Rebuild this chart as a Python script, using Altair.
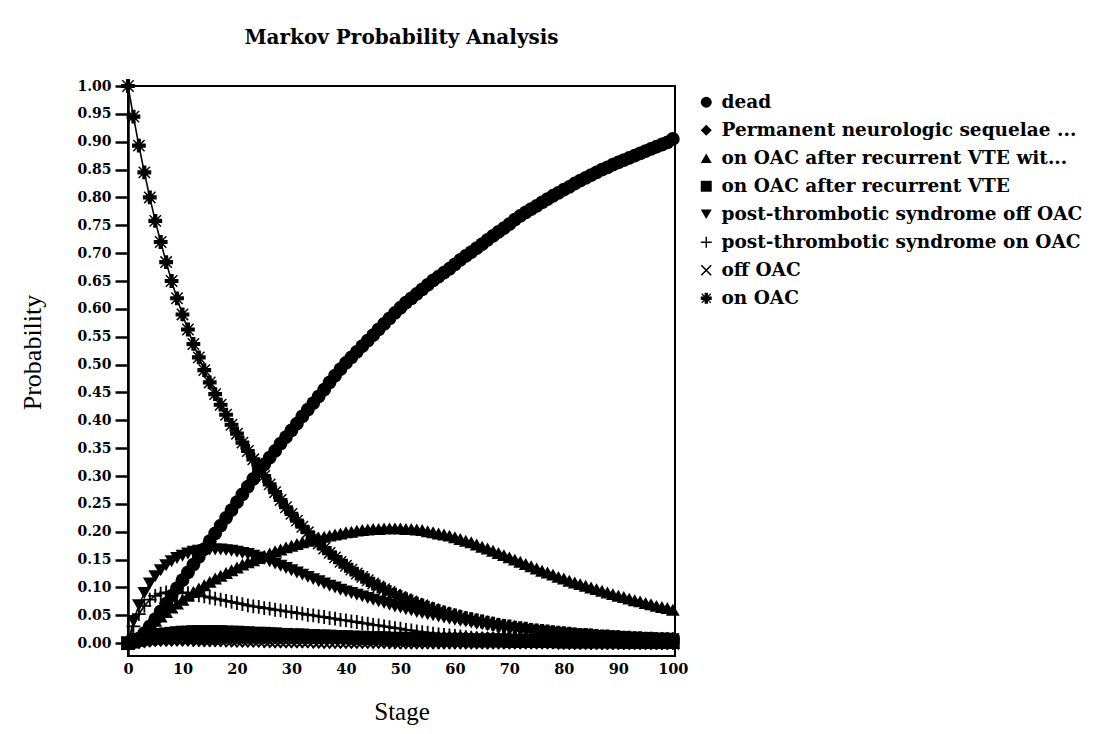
import altair as alt
import pandas as pd

SERIF = "Liberation Serif"
HEAVY = "DejaVu Serif"

stages = list(range(0, 101))

series_names = [
    "dead",
    "Permanent neurologic sequelae ...",
    "on OAC after recurrent VTE wit...",
    "on OAC after recurrent VTE",
    "post-thrombotic syndrome off OAC",
    "post-thrombotic syndrome on  OAC",
    "off OAC",
    "on OAC",
]

dead = [0.000, 0.002, 0.008, 0.018, 0.030, 0.043, 0.057, 0.071, 0.085, 0.099,
        0.113, 0.127, 0.141, 0.155, 0.169, 0.183, 0.197, 0.211, 0.225, 0.239,
        0.253, 0.267, 0.281, 0.295, 0.309, 0.321, 0.333, 0.345, 0.358, 0.370,
        0.382, 0.394, 0.407, 0.419, 0.431, 0.443, 0.455, 0.468, 0.480, 0.492,
        0.503, 0.513, 0.523, 0.533, 0.543, 0.553, 0.563, 0.573, 0.583, 0.593,
        0.602, 0.611, 0.619, 0.627, 0.635, 0.643, 0.651, 0.658, 0.665, 0.672,
        0.680, 0.688, 0.695, 0.702, 0.709, 0.716, 0.724, 0.731, 0.738, 0.745,
        0.752, 0.760, 0.767, 0.773, 0.779, 0.785, 0.791, 0.797, 0.803, 0.808,
        0.814, 0.819, 0.825, 0.830, 0.835, 0.840, 0.845, 0.850, 0.854, 0.859,
        0.863, 0.867, 0.871, 0.875, 0.879, 0.883, 0.887, 0.891, 0.895, 0.899,
        0.905]

neuro_sequelae = [0.000, 0.001, 0.002, 0.003, 0.004, 0.005, 0.006, 0.006, 0.007, 0.007,
                  0.008, 0.008, 0.008, 0.009, 0.009, 0.009, 0.009, 0.010, 0.010, 0.010,
                  0.010, 0.010, 0.010, 0.010, 0.010, 0.010, 0.010, 0.010, 0.010, 0.010,
                  0.010, 0.010, 0.010, 0.010, 0.010, 0.010, 0.010, 0.010, 0.010, 0.010,
                  0.010, 0.010, 0.010, 0.010, 0.010, 0.010, 0.010, 0.010, 0.010, 0.010,
                  0.010, 0.010, 0.010, 0.010, 0.010, 0.010, 0.010, 0.010, 0.010, 0.010,
                  0.010, 0.010, 0.010, 0.009, 0.009, 0.009, 0.009, 0.009, 0.009, 0.009,
                  0.009, 0.009, 0.009, 0.009, 0.009, 0.009, 0.009, 0.009, 0.009, 0.009,
                  0.008, 0.008, 0.008, 0.008, 0.008, 0.008, 0.008, 0.008, 0.008, 0.008,
                  0.008, 0.008, 0.008, 0.008, 0.008, 0.008, 0.008, 0.008, 0.008, 0.008,
                  0.008]

oac_recurrent_with = [0.000, 0.005, 0.013, 0.022, 0.031, 0.040, 0.048, 0.056, 0.064, 0.071,
                      0.078, 0.085, 0.092, 0.098, 0.104, 0.110, 0.116, 0.121, 0.126, 0.131,
                      0.136, 0.141, 0.145, 0.149, 0.153, 0.157, 0.161, 0.165, 0.168, 0.172,
                      0.175, 0.178, 0.181, 0.184, 0.186, 0.189, 0.191, 0.193, 0.195, 0.197,
                      0.199, 0.200, 0.202, 0.203, 0.204, 0.205, 0.205, 0.206, 0.206, 0.206,
                      0.206, 0.205, 0.205, 0.204, 0.203, 0.201, 0.199, 0.197, 0.195, 0.193,
                      0.190, 0.187, 0.184, 0.181, 0.177, 0.173, 0.170, 0.166, 0.162, 0.158,
                      0.154, 0.150, 0.146, 0.142, 0.138, 0.134, 0.130, 0.127, 0.123, 0.119,
                      0.116, 0.112, 0.109, 0.106, 0.103, 0.100, 0.097, 0.094, 0.091, 0.088,
                      0.085, 0.083, 0.080, 0.077, 0.075, 0.072, 0.070, 0.067, 0.065, 0.063,
                      0.060]

oac_recurrent = [0.000, 0.003, 0.006, 0.009, 0.011, 0.013, 0.015, 0.016, 0.017, 0.018,
                 0.019, 0.019, 0.020, 0.020, 0.020, 0.020, 0.020, 0.020, 0.019, 0.019,
                 0.019, 0.018, 0.018, 0.017, 0.017, 0.017, 0.016, 0.016, 0.015, 0.015,
                 0.014, 0.014, 0.014, 0.013, 0.013, 0.012, 0.012, 0.012, 0.011, 0.011,
                 0.011, 0.010, 0.010, 0.010, 0.009, 0.009, 0.009, 0.009, 0.008, 0.008,
                 0.008, 0.008, 0.007, 0.007, 0.007, 0.007, 0.007, 0.006, 0.006, 0.006,
                 0.006, 0.006, 0.006, 0.005, 0.005, 0.005, 0.005, 0.005, 0.005, 0.005,
                 0.004, 0.004, 0.004, 0.004, 0.004, 0.004, 0.004, 0.004, 0.004, 0.003,
                 0.003, 0.003, 0.003, 0.003, 0.003, 0.003, 0.003, 0.003, 0.003, 0.003,
                 0.003, 0.002, 0.002, 0.002, 0.002, 0.002, 0.002, 0.002, 0.002, 0.002,
                 0.002]

pts_off_oac = [0.000, 0.040, 0.068, 0.090, 0.107, 0.120, 0.131, 0.140, 0.147, 0.153,
               0.157, 0.161, 0.164, 0.166, 0.167, 0.168, 0.168, 0.168, 0.167, 0.166,
               0.164, 0.162, 0.160, 0.157, 0.154, 0.151, 0.147, 0.143, 0.139, 0.135,
               0.131, 0.127, 0.123, 0.119, 0.115, 0.111, 0.107, 0.103, 0.100, 0.096,
               0.093, 0.090, 0.087, 0.084, 0.081, 0.078, 0.075, 0.072, 0.069, 0.066,
               0.064, 0.061, 0.059, 0.056, 0.054, 0.052, 0.050, 0.048, 0.046, 0.044,
               0.042, 0.040, 0.039, 0.037, 0.035, 0.034, 0.032, 0.031, 0.030, 0.028,
               0.027, 0.026, 0.025, 0.024, 0.023, 0.022, 0.021, 0.020, 0.019, 0.018,
               0.017, 0.017, 0.016, 0.015, 0.015, 0.014, 0.013, 0.013, 0.012, 0.012,
               0.011, 0.011, 0.010, 0.010, 0.009, 0.009, 0.009, 0.008, 0.008, 0.008,
               0.007]

pts_on_oac = [0.000, 0.030, 0.052, 0.067, 0.078, 0.085, 0.089, 0.091, 0.092, 0.092,
              0.091, 0.090, 0.088, 0.086, 0.084, 0.082, 0.080, 0.078, 0.076, 0.074,
              0.072, 0.070, 0.068, 0.066, 0.065, 0.063, 0.062, 0.060, 0.059, 0.057,
              0.056, 0.054, 0.053, 0.051, 0.050, 0.048, 0.047, 0.045, 0.044, 0.042,
              0.041, 0.039, 0.038, 0.036, 0.035, 0.033, 0.032, 0.030, 0.029, 0.027,
              0.026, 0.024, 0.023, 0.021, 0.020, 0.019, 0.017, 0.016, 0.015, 0.014,
              0.013, 0.012, 0.011, 0.010, 0.009, 0.008, 0.007, 0.007, 0.006, 0.006,
              0.005, 0.005, 0.004, 0.004, 0.004, 0.003, 0.003, 0.003, 0.003, 0.002,
              0.002, 0.002, 0.002, 0.002, 0.002, 0.001, 0.001, 0.001, 0.001, 0.001,
              0.001, 0.001, 0.001, 0.001, 0.001, 0.001, 0.001, 0.000, 0.000, 0.000,
              0.000]

off_oac = [0.000, 0.002, 0.004, 0.005, 0.006, 0.006, 0.006, 0.006, 0.006, 0.006,
           0.006, 0.006, 0.006, 0.005, 0.005, 0.005, 0.005, 0.005, 0.005, 0.004,
           0.004, 0.004, 0.004, 0.004, 0.004, 0.004, 0.003, 0.003, 0.003, 0.003,
           0.003, 0.003, 0.003, 0.003, 0.003, 0.002, 0.002, 0.002, 0.002, 0.002,
           0.002, 0.002, 0.002, 0.002, 0.002, 0.002, 0.002, 0.002, 0.002, 0.001,
           0.001, 0.001, 0.001, 0.001, 0.001, 0.001, 0.001, 0.001, 0.001, 0.001,
           0.001, 0.001, 0.001, 0.001, 0.001, 0.001, 0.001, 0.001, 0.001, 0.001,
           0.001, 0.001, 0.001, 0.001, 0.001, 0.001, 0.001, 0.001, 0.001, 0.001,
           0.000, 0.000, 0.000, 0.000, 0.000, 0.000, 0.000, 0.000, 0.000, 0.000,
           0.000, 0.000, 0.000, 0.000, 0.000, 0.000, 0.000, 0.000, 0.000, 0.000,
           0.000]

on_oac = [1.000, 0.945, 0.893, 0.845, 0.800, 0.758, 0.720, 0.684, 0.650, 0.619,
          0.590, 0.563, 0.537, 0.513, 0.490, 0.468, 0.447, 0.428, 0.410, 0.392,
          0.376, 0.360, 0.345, 0.330, 0.316, 0.300, 0.285, 0.271, 0.257, 0.244,
          0.232, 0.220, 0.209, 0.199, 0.189, 0.179, 0.170, 0.162, 0.154, 0.146,
          0.139, 0.132, 0.125, 0.119, 0.113, 0.107, 0.102, 0.097, 0.092, 0.087,
          0.083, 0.079, 0.075, 0.071, 0.068, 0.064, 0.061, 0.058, 0.055, 0.052,
          0.050, 0.047, 0.045, 0.043, 0.041, 0.039, 0.037, 0.035, 0.033, 0.031,
          0.030, 0.028, 0.027, 0.026, 0.024, 0.023, 0.022, 0.021, 0.020, 0.019,
          0.018, 0.017, 0.016, 0.015, 0.015, 0.014, 0.013, 0.012, 0.012, 0.011,
          0.011, 0.010, 0.010, 0.009, 0.009, 0.008, 0.008, 0.007, 0.007, 0.007,
          0.006]

y_ticks = [0.00, 0.05, 0.10, 0.15, 0.20, 0.25, 0.30, 0.35, 0.40, 0.45, 0.50,
           0.55, 0.60, 0.65, 0.70, 0.75, 0.80, 0.85, 0.90, 0.95, 1.00]
x_ticks = [0, 10, 20, 30, 40, 50, 60, 70, 80, 90, 100]

all_series = [dead, neuro_sequelae, oac_recurrent_with, oac_recurrent,
              pts_off_oac, pts_on_oac, off_oac, on_oac]

rows = []
for name, vals in zip(series_names, all_series):
    for s, v in zip(stages, vals):
        rows.append({"Stage": s, "Probability": v, "State": name})
df = pd.DataFrame(rows)

# marker glyphs drawn as filled outlines (unit box -1..1)
plus_path = ("M-1,-0.13L-0.13,-0.13L-0.13,-1L0.13,-1L0.13,-0.13L1,-0.13L1,0.13"
             "L0.13,0.13L0.13,1L-0.13,1L-0.13,0.13L-1,0.13Z")
x_path = "M-0.8,-1L1,0.8L0.8,1L-1,-0.8ZM-0.8,1L-1,0.8L0.8,-1L1,-0.8Z"
star_path = ("M-1,-0.3L-0.3,-0.3L-0.3,-1L0.3,-1L0.3,-0.3L1,-0.3L1,0.3"
             "L0.3,0.3L0.3,1L-0.3,1L-0.3,0.3L-1,0.3Z"
             "M-0.75,-0.9L0.9,0.75L0.75,0.9L-0.9,-0.75Z"
             "M-0.75,0.9L-0.9,0.75L0.75,-0.9L0.9,-0.75Z")
shape_range = ["circle", "diamond", "triangle-up", "square", "triangle-down",
               plus_path, x_path, star_path]

x_enc = alt.X("Stage:Q",
              scale=alt.Scale(domain=[0, 100.4], nice=False, zero=False),
              axis=alt.Axis(values=x_ticks, ticks=False, domain=False, grid=False,
                            labelFont=HEAVY, labelFontWeight="bold", labelFontSize=14.5,
                            labelColor="black", labelPadding=6, labelFlush=False,
                            title="Stage", titleFont=SERIF, titleFontSize=25,
                            titleFontWeight="normal", titleColor="black", titlePadding=24))
y_enc = alt.Y("Probability:Q",
              scale=alt.Scale(domain=[-0.023, 1.0], nice=False, zero=False),
              axis=alt.Axis(values=y_ticks, format=".2f", grid=False,
                            domainColor="black", domainWidth=2.5,
                            tickColor="black", tickWidth=2.5, tickSize=13,
                            labelFont=HEAVY, labelFontWeight="bold", labelFontSize=14,
                            labelColor="black", labelPadding=4, labelFlush=False,
                            title="Probability", titleFont=SERIF, titleFontSize=26,
                            titleFontWeight="normal", titleColor="black", titlePadding=31,
                            titleY=266))

base = alt.Chart(df)

lines = base.mark_line(color="black", strokeWidth=1.6).encode(
    x=x_enc, y=y_enc, detail="State:N", order="Stage:Q")

points = base.mark_point(filled=True, color="black", fillOpacity=1,
                         opacity=1, size=190).encode(
    x=x_enc, y=y_enc,
    shape=alt.Shape("State:N",
                    scale=alt.Scale(domain=series_names, range=shape_range),
                    legend=alt.Legend(title=None, orient="none", legendX=569, legendY=7,
                                      labelFont=HEAVY, labelFontWeight="bold",
                                      labelFontSize=18.5, labelColor="black",
                                      labelLimit=500, symbolSize=120,
                                      symbolFillColor="black",
                                      rowPadding=9, labelOffset=6)))

chart = alt.layer(lines, points).properties(
    width=547, height=570,
    background="white",
    title=alt.TitleParams("Markov Probability Analysis", font=HEAVY, fontSize=20,
                          fontWeight="bold", color="black", anchor="middle",
                          frame="group", offset=31),
    autosize=alt.AutoSizeParams(type="none"),
    padding={"left": 120, "top": 78, "right": 420, "bottom": 70},
).configure_view(stroke="black", strokeWidth=2)

chart.save("out.html", embed_options={"renderer": "svg", "actions": False})
